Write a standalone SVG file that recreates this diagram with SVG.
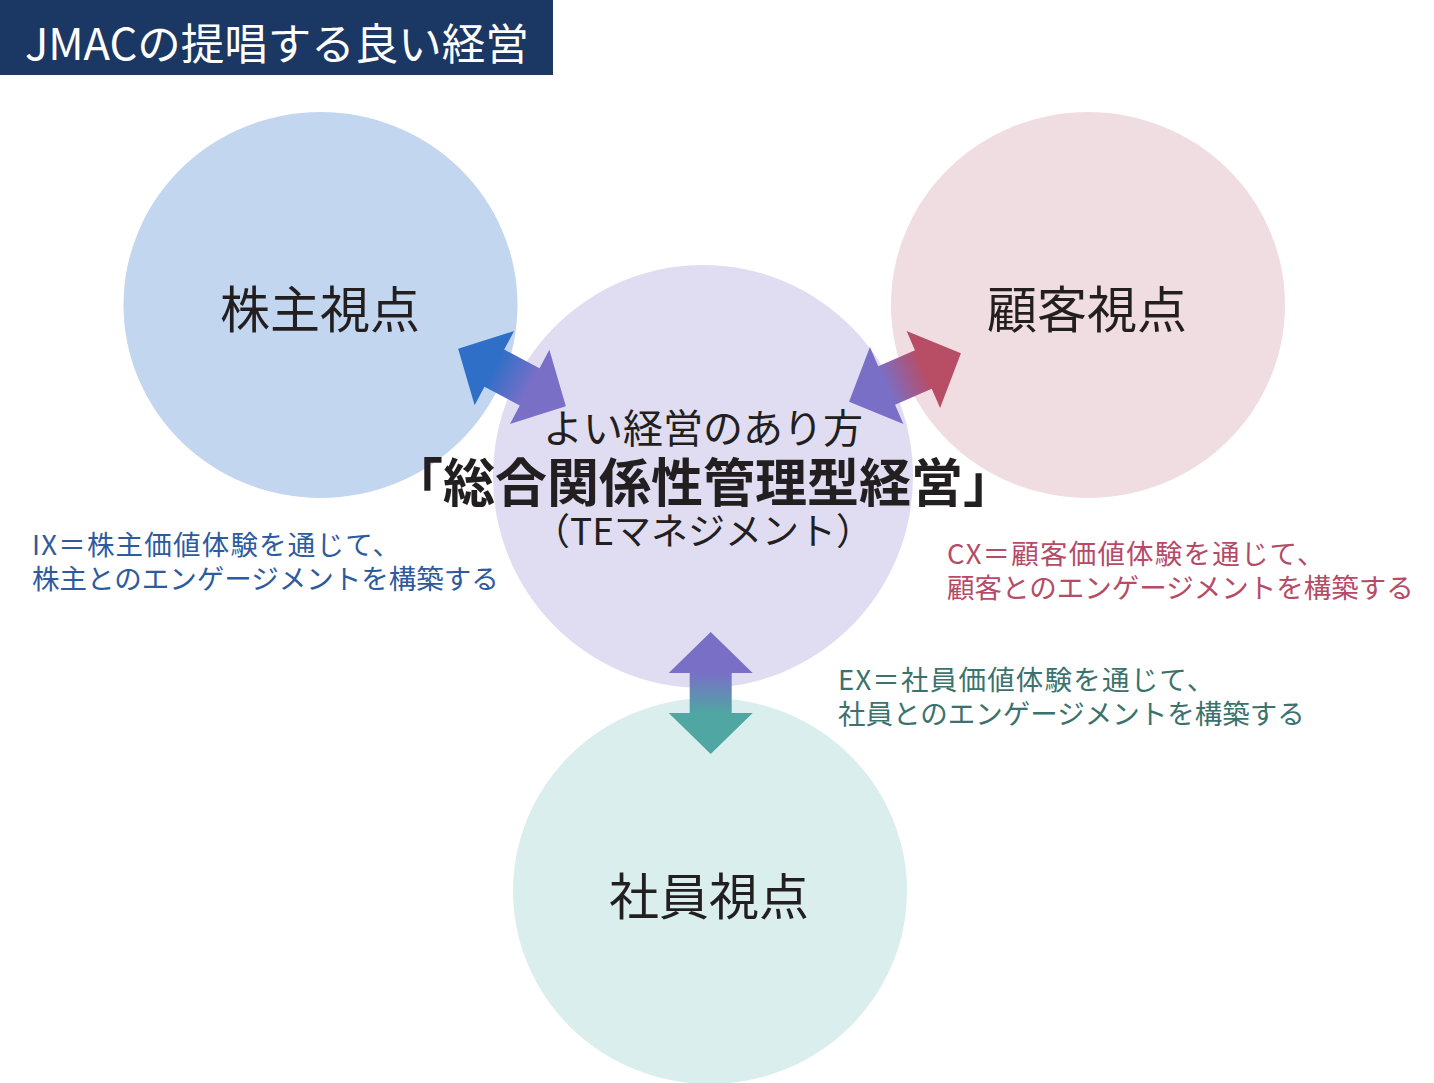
<svg xmlns="http://www.w3.org/2000/svg" width="1434" height="1083" viewBox="0 0 1434 1083">
<defs>
<style>
text{font-family:"Noto Sans CJK JP","Noto Sans",sans-serif;}
.node{font-size:50px;fill:#231f20;text-anchor:middle;}
.lbl{font-size:27.5px;}
.l1{letter-spacing:1.2px;}
.ix{fill:#2e5b9d;}
.cx{fill:#b64b67;}
.ex{fill:#3b726e;}
</style>
<linearGradient id="gBlue" x1="0" y1="0" x2="1" y2="0">
<stop offset="0.33" stop-color="#2f6fc8"/><stop offset="0.67" stop-color="#7a6fc7"/>
</linearGradient>
<linearGradient id="gRed" x1="0" y1="0" x2="1" y2="0">
<stop offset="0.33" stop-color="#7a6fc7"/><stop offset="0.67" stop-color="#b84d66"/>
</linearGradient>
<linearGradient id="gTeal" x1="0" y1="0" x2="1" y2="0">
<stop offset="0.33" stop-color="#7a6fc7"/><stop offset="0.67" stop-color="#4fa6a2"/>
</linearGradient>
<path id="arr" d="M-61,0 L-20,-42 L-20,-21 L20,-21 L20,-42 L61,0 L20,42 L20,21 L-20,21 L-20,42 Z"/>
</defs>
<rect width="1434" height="1083" fill="#ffffff"/>
<g id="title">
<rect x="0" y="0" width="553" height="75" fill="#1b3764"/>
<text x="25" y="60" font-size="43.5" fill="#ffffff">JMACの提唱する良い経営</text>
</g>
<g id="node-shareholder">
<ellipse cx="320.5" cy="305" rx="197" ry="193" fill="#c2d6ef"/>
<text class="node" x="320" y="328">株主視点</text>
</g>
<g id="node-customer">
<ellipse cx="1088" cy="305" rx="197" ry="193" fill="#f0dde2"/>
<text class="node" x="1087" y="328">顧客視点</text>
</g>
<g id="node-employee">
<ellipse cx="710" cy="891" rx="197" ry="193" fill="#daeeed"/>
<text class="node" x="709" y="915">社員視点</text>
</g>
<g id="node-center">
<ellipse cx="703" cy="476.5" rx="210" ry="211.5" fill="#e0ddf2"/>
<text x="703" y="443" font-size="40" fill="#231f20" text-anchor="middle">よい経営のあり方</text>
<text x="703" y="502" font-size="52" font-weight="bold" fill="#231f20" text-anchor="middle">「総合関係性管理型経営」</text>
<text x="703" y="545" font-size="37" fill="#231f20" text-anchor="middle">（TEマネジメント）</text>
</g>
<g id="connectors">
<use href="#arr" fill="url(#gBlue)" transform="translate(512,377.5) rotate(28)"/>
<use href="#arr" fill="url(#gRed)" transform="translate(905,377.5) rotate(-23.5)"/>
<use href="#arr" fill="url(#gTeal)" transform="translate(710.7,693) rotate(90)"/>
</g>
<g id="label-ix" class="lbl ix">
<text class="l1" x="32" y="555">IX＝株主価値体験を通じて、</text>
<text x="32" y="589">株主とのエンゲージメントを構築する</text>
</g>
<g id="label-cx" class="lbl cx">
<text class="l1" x="947" y="564">CX＝顧客価値体験を通じて、</text>
<text x="947" y="598">顧客とのエンゲージメントを構築する</text>
</g>
<g id="label-ex" class="lbl ex">
<text class="l1" x="838" y="690">EX＝社員価値体験を通じて、</text>
<text x="838" y="724">社員とのエンゲージメントを構築する</text>
</g>
</svg>
